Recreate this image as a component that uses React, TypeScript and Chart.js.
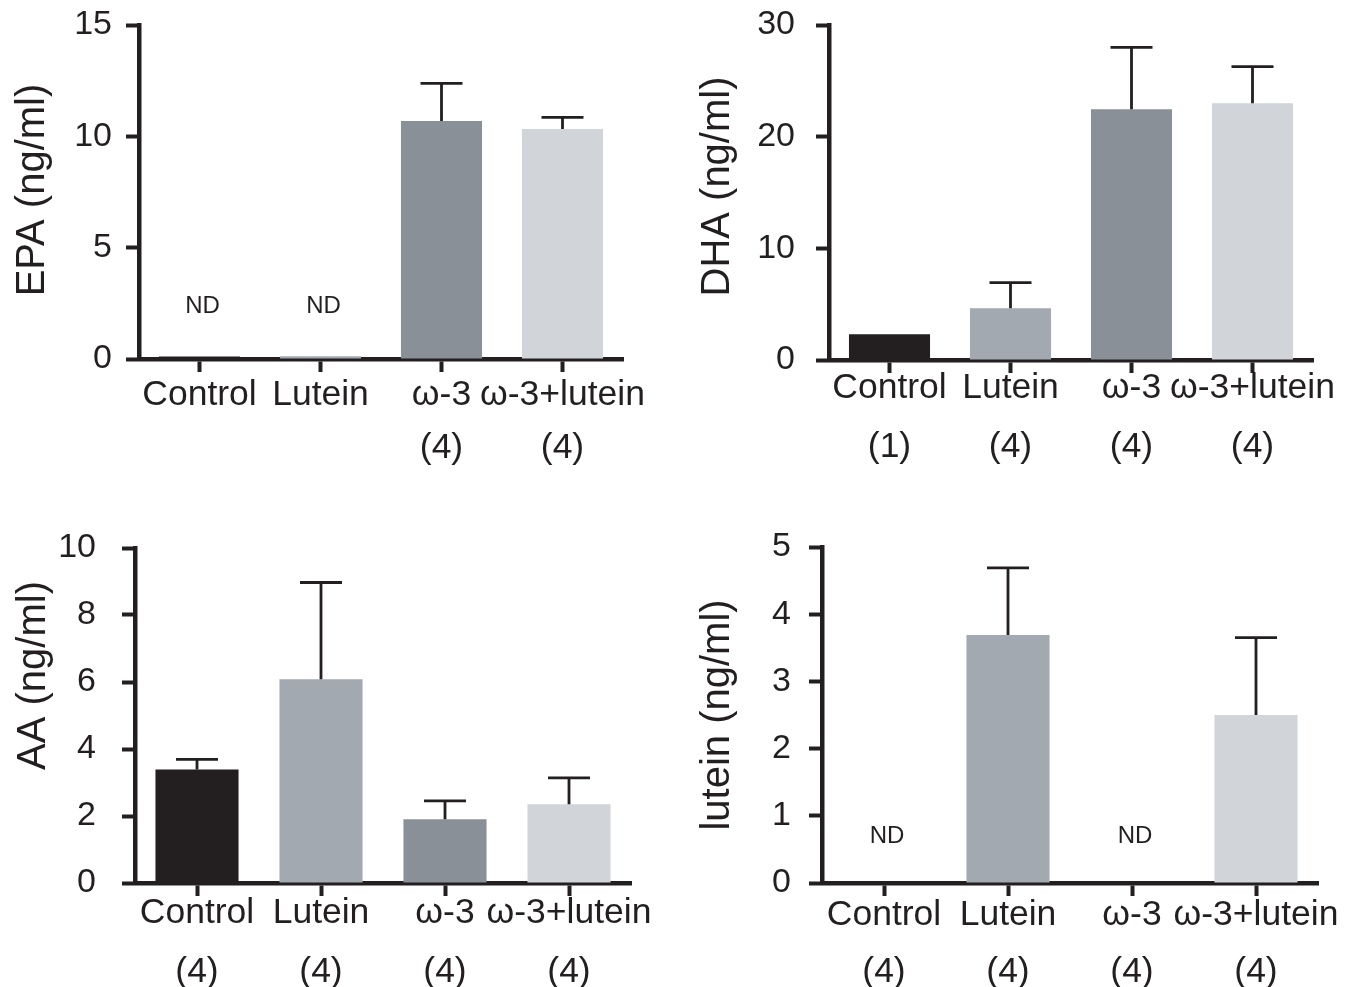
import React, { useEffect, useRef } from "react";
import { Chart, registerables } from "chart.js";

Chart.register(...registerables);

const FONT = '"Liberation Sans", Arial, Helvetica, sans-serif';
const INK = "#231f20";

// ---------- data ----------
const groups = ["Control", "Lutein", "ω-3", "ω-3+lutein"];
const barColors = ["#231f20", "#a3a9b1", "#8a9097", "#d1d4d8"];

// EPA (ng/ml); Control and Lutein not detected (ND)
const epaMean = [0.11, 0.12, 10.69, 10.33];
const epaSem = [null, null, 1.69, 0.52];
const epaN = [null, null, 4, 4];
const epaND = [true, true, false, false];

// DHA (ng/ml)
const dhaMean = [2.3, 4.63, 22.45, 22.99];
const dhaSem = [null, 2.3, 5.55, 3.28];
const dhaN = [1, 4, 4, 4];
const dhaND = [false, false, false, false];

// AA (ng/ml)
const aaMean = [3.39, 6.08, 1.9, 2.35];
const aaSem = [0.3, 2.89, 0.55, 0.79];
const aaN = [4, 4, 4, 4];
const aaND = [false, false, false, false];

// lutein (ng/ml); Control and ω-3 not detected (ND)
const luteinMean = [null, 3.69, null, 2.5];
const luteinSem = [null, 1.0, null, 1.15];
const luteinN = [4, 4, 4, 4];
const luteinND = [true, false, true, false];

type PanelCfg = {
  box: [number, number, number, number];
  padTop: number;
  padRight: number;
  yWidth: number;
  xHeight: number;
  means: (number | null)[];
  sem: (number | null)[];
  n: (number | null)[];
  nd: boolean[];
  ndValue: number;
  yMax: number;
  yStep: number;
  title: string;
  titleOffset: number;
  titleDy: number;
  yTickPad: number;
  xTickPad: number;
  xLineHeight: number;
};

const panels: PanelCfg[] = [
  {
    box: [0, 0, 678, 493], padTop: 25, padRight: 55, yWidth: 139, xHeight: 134,
    means: epaMean, sem: epaSem, n: epaN, nd: epaND, ndValue: 2.38,
    yMax: 15, yStep: 5, title: "EPA (ng/ml)", titleOffset: 106, titleDy: -2,
    yTickPad: 14, xTickPad: -3.5, xLineHeight: 53,
  },
  {
    box: [678, 0, 678, 493], padTop: 25, padRight: 43, yWidth: 151, xHeight: 133,
    means: dhaMean, sem: dhaSem, n: dhaN, nd: dhaND, ndValue: 0,
    yMax: 30, yStep: 10, title: "DHA (ng/ml)", titleOffset: 111, titleDy: -6,
    yTickPad: 21, xTickPad: -15, xLineHeight: 59.5,
  },
  {
    box: [0, 493, 678, 494], padTop: 55, padRight: 47, yWidth: 135, xHeight: 104,
    means: aaMean, sem: aaSem, n: aaN, nd: aaND, ndValue: 0,
    yMax: 10, yStep: 2, title: "AA (ng/ml)", titleOffset: 101, titleDy: -40,
    yTickPad: 26, xTickPad: -12.5, xLineHeight: 59,
  },
  {
    box: [678, 493, 678, 494], padTop: 54, padRight: 38, yWidth: 144, xHeight: 104,
    means: luteinMean, sem: luteinSem, n: luteinN, nd: luteinND, ndValue: 0.69,
    yMax: 5, yStep: 1, title: "lutein (ng/ml)", titleOffset: 104, titleDy: 0,
    yTickPad: 18, xTickPad: -10, xLineHeight: 57.5,
  },
];

function makeExtras(cfg: PanelCfg) {
  return {
    id: "panelExtras",
    afterDatasetsDraw(chart: any) {
      const { ctx, chartArea } = chart;
      const xs = chart.scales.x;
      const ys = chart.scales.y;
      ctx.save();
      // error bars (upper only)
      ctx.strokeStyle = INK;
      ctx.lineWidth = 2.8;
      cfg.means.forEach((v, i) => {
        const e = cfg.sem[i];
        if (v == null || e == null) return;
        const px = xs.getPixelForValue(i);
        const y0 = ys.getPixelForValue(v);
        const y1 = ys.getPixelForValue(v + e);
        ctx.beginPath();
        ctx.moveTo(px, y0);
        ctx.lineTo(px, y1);
        ctx.moveTo(px - 21, y1);
        ctx.lineTo(px + 21, y1);
        ctx.stroke();
      });
      // ND labels
      ctx.fillStyle = INK;
      ctx.font = `24px ${FONT}`;
      ctx.textAlign = "center";
      ctx.textBaseline = "middle";
      cfg.nd.forEach((isNd, i) => {
        if (!isNd) return;
        ctx.fillText("ND", xs.getPixelForValue(i) + 3, ys.getPixelForValue(cfg.ndValue));
      });
      // y-axis title
      ctx.translate(
        chartArea.left - cfg.titleOffset,
        (chartArea.top + chartArea.bottom) / 2 + cfg.titleDy
      );
      ctx.rotate(-Math.PI / 2);
      ctx.font = `40px ${FONT}`;
      ctx.fillText(cfg.title, 0, 0);
      ctx.restore();
    },
  };
}

function Panel({ cfg }: { cfg: PanelCfg }) {
  const ref = useRef<HTMLCanvasElement | null>(null);
  useEffect(() => {
    if (!ref.current) return;
    const labels = groups.map((g, i) =>
      cfg.n[i] != null ? [g, `(${cfg.n[i]})`] : [g]
    );
    const chart = new Chart(ref.current, {
      type: "bar",
      data: {
        labels,
        datasets: [
          {
            data: cfg.means as any,
            backgroundColor: barColors,
            borderWidth: 0,
            barPercentage: 1,
            categoryPercentage: 0.67,
          },
        ],
      },
      options: {
        animation: false,
        responsive: false,
        events: [],
        layout: { padding: { top: cfg.padTop, right: cfg.padRight, left: 0, bottom: 0 } },
        plugins: {
          legend: { display: false },
          tooltip: { enabled: false },
          title: { display: false },
        },
        scales: {
          x: {
            type: "category",
            offset: true,
            z: 1,
            grid: {
              display: true,
              drawOnChartArea: false,
              drawTicks: true,
              tickLength: 13,
              tickWidth: 4,
              tickColor: INK,
              color: INK,
              offset: false,
            },
            border: { display: true, color: INK, width: 4.5 },
            ticks: {
              color: INK,
              font: { family: FONT, size: 35.5, lineHeight: `${cfg.xLineHeight}px` },
              padding: cfg.xTickPad,
              maxRotation: 0,
              minRotation: 0,
              autoSkip: false,
            },
            afterFit: (s: any) => {
              s.height = cfg.xHeight;
              s.paddingLeft = 0;
              s.paddingRight = 0;
            },
          } as any,
          y: {
            min: 0,
            max: cfg.yMax,
            z: 1,
            grid: {
              display: true,
              drawOnChartArea: false,
              drawTicks: true,
              tickLength: 13,
              tickWidth: 4,
              tickColor: INK,
              color: INK,
            },
            border: { display: true, color: INK, width: 4.5 },
            ticks: {
              stepSize: cfg.yStep,
              color: INK,
              font: { family: FONT, size: 34 },
              padding: cfg.yTickPad,
            },
            afterFit: (s: any) => {
              s.width = cfg.yWidth;
              s.paddingTop = 0;
              s.paddingBottom = 0;
            },
          } as any,
        },
      },
      plugins: [makeExtras(cfg)],
    });
    return () => chart.destroy();
  }, [cfg]);
  const [l, t, w, h] = cfg.box;
  return (
    <div style={{ position: "absolute", left: l, top: t, width: w, height: h }}>
      <canvas
        ref={ref}
        width={w}
        height={h}
        style={{ display: "block", width: w, height: h }}
      />
    </div>
  );
}

export default function App() {
  return (
    <div
      style={{
        position: "absolute",
        left: 0,
        top: 0,
        width: 1356,
        height: 987,
        background: "#ffffff",
        overflow: "hidden",
      }}
    >
      {panels.map((p, i) => (
        <Panel key={i} cfg={p} />
      ))}
    </div>
  );
}
